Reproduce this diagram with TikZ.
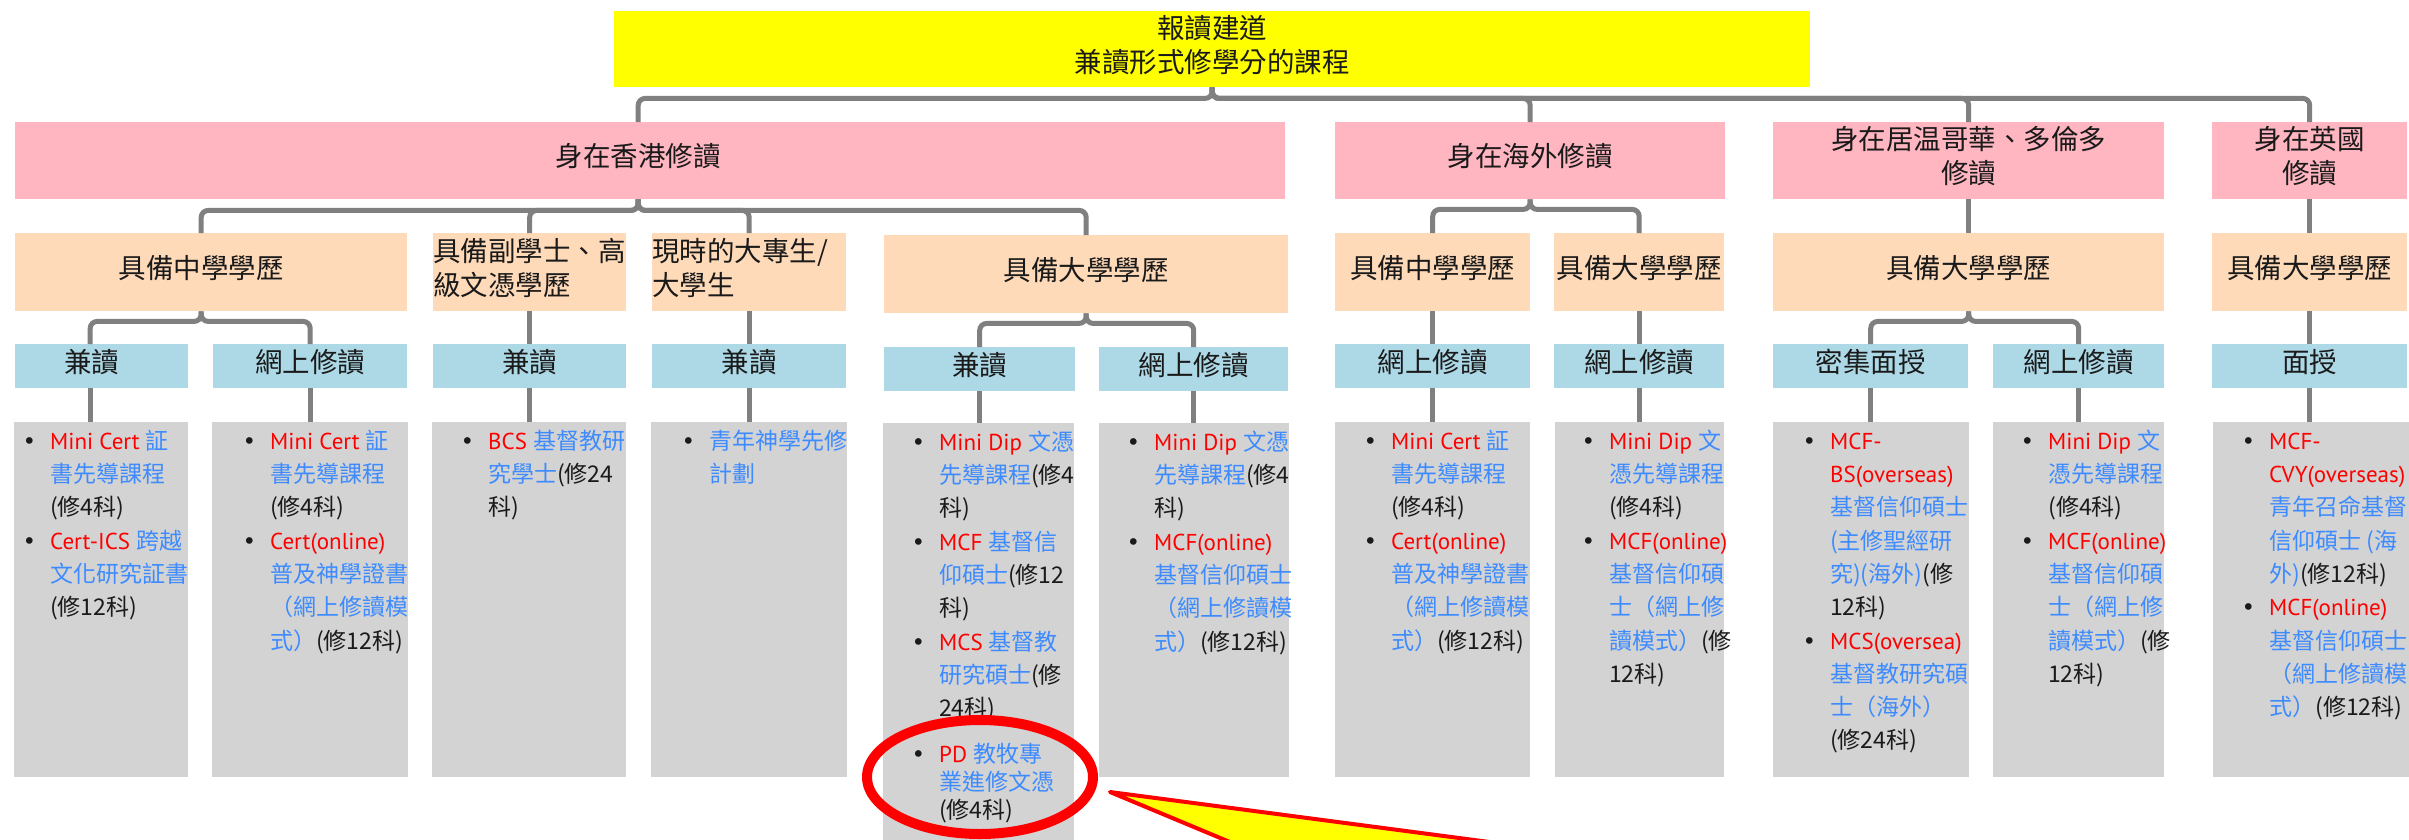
\documentclass[tikz,border=0pt]{standalone}
\usepackage{fontspec}
\setmainfont{Noto Sans CJK TC}
\newfontfamily\bfont{DejaVu Sans}
\newfontfamily\lfont{PT Sans}
\definecolor{cyel}{HTML}{FFFF00}
\definecolor{cpink}{HTML}{FFB6C1}
\definecolor{cpeach}{HTML}{FFDAB9}
\definecolor{clblue}{HTML}{ADD8E6}
\definecolor{cgray}{HTML}{D3D3D3}
\definecolor{cline}{HTML}{808080}
\definecolor{cred}{HTML}{FF0000}
\definecolor{cblue}{HTML}{3D8BFF}
\definecolor{ctxt}{HTML}{1A1A1A}
\newcommand\tR[1]{{\lfont\color{cred}#1}}
\newcommand\tB[1]{\textcolor{cblue}{#1}}
\newcommand\tK[1]{\textcolor{ctxt}{#1}}
\newcommand\lift{\rule[-11pt]{0pt}{11pt}}
\newcommand\gbl{\leavevmode\llap{{\bfont\textcolor{ctxt}{•}}\hspace{14pt}}}
\newcommand\glist[4]{\parbox[t][#2][t]{#1}{\setlength\parindent{0pt}\setlength\leftskip{#3}\setlength\rightskip{-150pt plus 1fil}\setlength\parfillskip{0pt plus 1fil}\fontsize{23}{33.3}\selectfont\rule{0pt}{27pt}#4\par}}
\tikzset{
  hd/.style={inner sep=0pt, anchor=north west, font=\fontsize{27.5}{34}\selectfont, text=ctxt},
  gb/.style={fill=cgray, inner sep=0pt, anchor=north west},
  conn/.style={draw=cline, line width=5pt, rounded corners=7pt},
}
\begin{document}
\begin{tikzpicture}[x=1pt,y=-1pt]
\useasboundingbox (0,0) rectangle (2409,839);
\fill[white] (0,0) rectangle (2409,839);
% level 0
\node[hd, fill=cyel, minimum width=1196pt, minimum height=76pt, align=center] (top) at (614,11) {報讀建道\\兼讀形式修學分的課程\lift};
% level 1
\node[hd, fill=cpink, minimum width=1270pt, minimum height=77pt] (hk) at (15,122) {身在香港修讀\hspace*{24pt}\lift};
\node[hd, fill=cpink, minimum width=390pt, minimum height=77pt] (ov) at (1335,122) {身在海外修讀\lift};
\node[hd, fill=cpink, minimum width=391pt, minimum height=77pt, align=center] (va) at (1773,122) {身在居温哥華、多倫多\\修讀\lift};
\node[hd, fill=cpink, minimum width=195pt, minimum height=77pt, align=center] (uk) at (2212,122) {身在英國\\修讀\lift};
% level 2
\node[hd, fill=cpeach, minimum width=392pt, minimum height=78pt] (hs) at (15,233) {具備中學學歷\hspace*{20pt}\lift};
\node[hd, fill=cpeach, text width=193pt, minimum height=78pt, align=left] (ha) at (433,233) {具備副學士、高\\級文憑學歷\lift};
\node[hd, fill=cpeach, text width=194pt, minimum height=78pt, align=left] (hc) at (652,233) {現時的大專生/\\大學生\lift};
\node[hd, fill=cpeach, minimum width=404pt, minimum height=78pt] (hu) at (884,235) {具備大學學歷\lift};
\node[hd, fill=cpeach, minimum width=195pt, minimum height=78pt] (os) at (1335,233) {具備中學學歷\lift};
\node[hd, fill=cpeach, minimum width=170pt, minimum height=78pt] (ou) at (1554,233) {具備大學學歷\lift};
\node[hd, fill=cpeach, minimum width=391pt, minimum height=78pt] (vu) at (1773,233) {具備大學學歷\lift};
\node[hd, fill=cpeach, minimum width=195pt, minimum height=78pt] (uu) at (2212,233) {具備大學學歷\lift};
% level 3
\node[hd, fill=clblue, minimum width=173pt, minimum height=44pt] (hs1) at (15,344) {兼讀\hspace*{20pt}\lift};
\node[hd, fill=clblue, minimum width=194pt, minimum height=44pt] (hs2) at (213,344) {網上修讀\lift};
\node[hd, fill=clblue, minimum width=193pt, minimum height=44pt] (ha1) at (433,344) {兼讀\lift};
\node[hd, fill=clblue, minimum width=194pt, minimum height=44pt] (hc1) at (652,344) {兼讀\lift};
\node[hd, fill=clblue, minimum width=191pt, minimum height=44pt] (hu1) at (884,347) {兼讀\lift};
\node[hd, fill=clblue, minimum width=189pt, minimum height=44pt] (hu2) at (1099,347) {網上修讀\lift};
\node[hd, fill=clblue, minimum width=195pt, minimum height=44pt] (os1) at (1335,344) {網上修讀\lift};
\node[hd, fill=clblue, minimum width=170pt, minimum height=44pt] (ou1) at (1554,344) {網上修讀\lift};
\node[hd, fill=clblue, minimum width=195pt, minimum height=44pt] (vu1) at (1773,344) {密集面授\lift};
\node[hd, fill=clblue, minimum width=171pt, minimum height=44pt] (vu2) at (1993,344) {網上修讀\lift};
\node[hd, fill=clblue, minimum width=195pt, minimum height=44pt] (uu1) at (2212,344) {面授\lift};
% level 4
\node[gb] (g1) at (14,422) {\glist{174pt}{355pt}{36pt}{\gbl\tR{Mini Cert }\tB{証}\\ \tB{書先導課程}\\ \tK{(修4科)}\\ \gbl\tR{Cert-ICS }\tB{跨越}\\ \tB{文化研究証書}\\ \tK{(修12科)}}};
\node[gb] (g2) at (212,422) {\glist{196pt}{355pt}{58pt}{\gbl\tR{Mini Cert }\tB{証}\\ \tB{書先導課程}\\ \tK{(修4科)}\\ \gbl\tR{Cert(online)}\\ \tB{普及神學證書}\\ \tB{（網上修讀模}\\ \tB{式）}\tK{(修12科)}}};
\node[gb] (g3) at (432,422) {\glist{194pt}{355pt}{56pt}{\gbl\tR{BCS }\tB{基督教研}\\ \tB{究學士}\tK{(修24}\\ \tK{科)}}};
\node[gb] (g4) at (651,422) {\glist{196pt}{355pt}{58pt}{\gbl\tB{青年神學先修}\\ \tB{計劃}}};
\node[gb] (g5) at (883,423) {\glist{191pt}{420pt}{56pt}{\gbl\tR{Mini Dip }\tB{文憑}\\ \tB{先導課程}\tK{(修4}\\ \tK{科)}\\ \gbl\tR{MCF }\tB{基督信}\\ \tB{仰碩士}\tK{(修12}\\ \tK{科)}\\ \gbl\tR{MCS }\tB{基督教}\\ \tB{研究碩士}\tK{(修}\\ \tK{24科)}\par\vspace{18pt}{\setlength\baselineskip{28pt}\gbl\tR{PD }\tB{教牧專}\\ \tB{業進修文憑}\\ \tK{(修4科)}\par}}};
\node[gb] (g6) at (1099,423) {\glist{190pt}{354pt}{55pt}{\gbl\tR{Mini Dip }\tB{文憑}\\ \tB{先導課程}\tK{(修4}\\ \tK{科)}\\ \gbl\tR{MCF(online)}\\ \tB{基督信仰碩士}\\ \tB{（網上修讀模}\\ \tB{式）}\tK{(修12科)}}};
\node[gb] (g7) at (1335,422) {\glist{195pt}{355pt}{56pt}{\gbl\tR{Mini Cert }\tB{証}\\ \tB{書先導課程}\\ \tK{(修4科)}\\ \gbl\tR{Cert(online)}\\ \tB{普及神學證書}\\ \tB{（網上修讀模}\\ \tB{式）}\tK{(修12科)}}};
\node[gb] (g8) at (1555,422) {\glist{169pt}{355pt}{54pt}{\gbl\tR{Mini Dip }\tB{文}\\ \tB{憑先導課程}\\ \tK{(修4科)}\\ \gbl\tR{MCF(online)}\\ \tB{基督信仰碩}\\ \tB{士（網上修}\\ \tB{讀模式）}\tK{(修}\\ \tK{12科)}}};
\node[gb] (g9) at (1773,422) {\glist{196pt}{355pt}{57pt}{\gbl\tR{MCF-}\\ \tR{BS(overseas)}\\ \tB{基督信仰碩士}\\ \tB{(主修聖經研}\\ \tB{究)(海外)}\tK{(修}\\ \tK{12科)}\\ \gbl\tR{MCS(oversea)}\\ \tB{基督教研究碩}\\ \tB{士（海外）}\\ \tK{(修24科)}}};
\node[gb] (g10) at (1993,422) {\glist{171pt}{355pt}{55pt}{\gbl\tR{Mini Dip }\tB{文}\\ \tB{憑先導課程}\\ \tK{(修4科)}\\ \gbl\tR{MCF(online)}\\ \tB{基督信仰碩}\\ \tB{士（網上修}\\ \tB{讀模式）}\tK{(修}\\ \tK{12科)}}};
\node[gb] (g11) at (2213,422) {\glist{196pt}{355pt}{56pt}{\gbl\tR{MCF-}\\ \tR{CVY(overseas)}\\ \tB{青年召命基督}\\ \tB{信仰碩士 (海}\\ \tB{外)}\tK{(修12科)}\\ \gbl\tR{MCF(online)}\\ \tB{基督信仰碩士}\\ \tB{（網上修讀模}\\ \tB{式）}\tK{(修12科)}}};
% connectors level 0 -> 1
\draw[conn] (top.south) -- ([yshift=-11pt]top.south) -| ([xshift=-12pt]hk.north);
\draw[conn] (top.south) -- ([yshift=-11pt]top.south) -| (ov.north);
\draw[conn] (top.south) -- ([yshift=-11pt]top.south) -| (va.north);
\draw[conn] (top.south) -- ([yshift=-11pt]top.south) -| (uk.north);
% level 1 -> 2
\draw[conn] ([xshift=-12pt]hk.south) -- ([xshift=-12pt,yshift=-11pt]hk.south) -| ([xshift=-10pt]hs.north);
\draw[conn] ([xshift=-12pt]hk.south) -- ([xshift=-12pt,yshift=-11pt]hk.south) -| (ha.north);
\draw[conn] ([xshift=-12pt]hk.south) -- ([xshift=-12pt,yshift=-11pt]hk.south) -| (hc.north);
\draw[conn] ([xshift=-12pt]hk.south) -- ([xshift=-12pt,yshift=-11pt]hk.south) -| (hu.north);
\draw[conn] (ov.south) -- ([yshift=-10pt]ov.south) -| (os.north);
\draw[conn] (ov.south) -- ([yshift=-10pt]ov.south) -| (ou.north);
\draw[conn] (va.south) -- (va.south |- vu.north);
\draw[conn] (uk.south) -- (uk.south |- uu.north);
% level 2 -> 3
\draw[conn] ([xshift=-10pt]hs.south) -- ([xshift=-10pt,yshift=-10pt]hs.south) -| ([xshift=-11.5pt]hs1.north);
\draw[conn] ([xshift=-10pt]hs.south) -- ([xshift=-10pt,yshift=-10pt]hs.south) -| (hs2.north);
\draw[conn] (ha.south) -- (ha.south |- ha1.north);
\draw[conn] (hc.south) -- (hc.south |- hc1.north);
\draw[conn] (hu.south) -- ([yshift=-10pt]hu.south) -| (hu1.north);
\draw[conn] (hu.south) -- ([yshift=-10pt]hu.south) -| (hu2.north);
\draw[conn] (os.south) -- (os.south |- os1.north);
\draw[conn] (ou.south) -- (ou.south |- ou1.north);
\draw[conn] (vu.south) -- ([yshift=-10pt]vu.south) -| (vu1.north);
\draw[conn] (vu.south) -- ([yshift=-10pt]vu.south) -| (vu2.north);
\draw[conn] (uu.south) -- (uu.south |- uu1.north);
% level 3 -> 4
\draw[conn] ([xshift=-11.5pt]hs1.south) -- ([xshift=-11.5pt]hs1.south |- g1.north);
\draw[conn] (hs2.south) -- (hs2.south |- g2.north);
\draw[conn] (ha1.south) -- (ha1.south |- g3.north);
\draw[conn] (hc1.south) -- (hc1.south |- g4.north);
\draw[conn] (hu1.south) -- (hu1.south |- g5.north);
\draw[conn] (hu2.south) -- (hu2.south |- g6.north);
\draw[conn] (os1.south) -- (os1.south |- g7.north);
\draw[conn] (ou1.south) -- (ou1.south |- g8.north);
\draw[conn] (vu1.south) -- (vu1.south |- g9.north);
\draw[conn] (vu2.south) -- (vu2.south |- g10.north);
\draw[conn] (uu1.south) -- (uu1.south |- g11.north);
% highlight
\draw[cred, line width=10pt] (980,777) ellipse [x radius=113pt, y radius=57pt];
\begin{scope}
\clip (0,0) rectangle (2409,839);
\filldraw[fill=cyel, draw=cred, line width=4pt, line join=round] (1110,792) -- (1626,860) -- (1273,860) -- cycle;
\end{scope}
\end{tikzpicture}
\end{document}
